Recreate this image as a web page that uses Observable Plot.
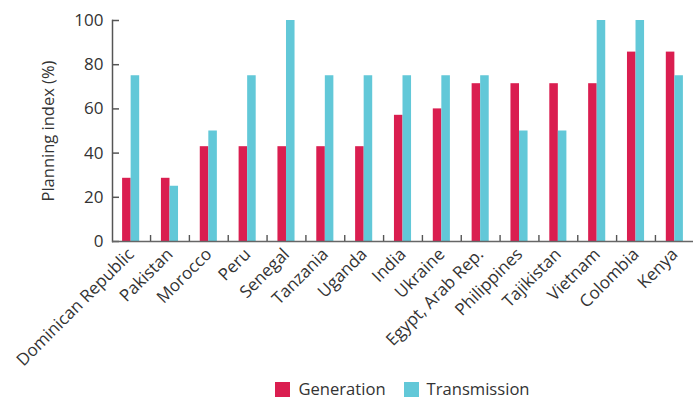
<!DOCTYPE html>
<html><head><meta charset="utf-8">
<script src="https://cdn.jsdelivr.net/npm/d3@7"></script>
<script src="https://cdn.jsdelivr.net/npm/@observablehq/plot@0.6"></script>
<style>
body{margin:0;background:#fff;font-family:"Open Sans",sans-serif;color:#333;}
#wrap{position:relative;width:693px;height:401px;overflow:hidden;}
#legend{position:absolute;left:112px;right:0;top:381px;height:16px;display:flex;justify-content:center;align-items:center;font-size:16.6px;line-height:16px;color:#333;}
#legend .item{display:flex;align-items:center;margin:0 9px;height:16px;}
#legend .sw{width:15px;height:15px;margin-right:8px;}
#legend .lbl{display:block;height:16px;line-height:16px;}
</style></head><body><div id="wrap"><div id="chart"></div><div id="legend"></div></div>
<script>
const countries = ["Dominican Republic","Pakistan","Morocco","Peru","Senegal","Tanzania","Uganda","India","Ukraine","Egypt, Arab Rep.","Philippines","Tajikistan","Vietnam","Colombia","Kenya"];
const generation = [28.6,28.6,42.9,42.9,42.9,42.9,42.9,57.1,60,71.4,71.4,71.4,71.4,85.7,85.7];
const transmission = [75,25,50,75,100,75,75,75,75,75,50,50,100,100,75];
const yTicks = [0,20,40,60,80,100];
const seriesNames = ["Generation","Transmission"];
const colors = ["#DA1E50","#62C8D8"];
const yTitle = "Planning index (%)";

const rows = countries.map((c,i)=>({country:c, generation:generation[i], transmission:transmission[i]}));
const W=693,H=375,ML=112,MR=0,MT=20,Y0=241;
const pInner=0.56,pOuter=0.26;
const step=(W-ML-MR)/(countries.length - pInner + 2*pOuter);
const bw=step*(1-pInner);
const axisColor="#555";

const chart = Plot.plot({
  width:W,height:H,marginLeft:ML,marginRight:MR,marginTop:MT,marginBottom:H-Y0,
  style:{fontFamily:"'Open Sans',sans-serif",color:"#333",background:"#fff"},
  x:{domain:countries,paddingInner:pInner,paddingOuter:pOuter,round:false,label:null},
  y:{domain:[0,100],label:null},
  marks:[
    Plot.barY(rows,{x:"country",y:"generation",fill:colors[0],insetRight:bw/2}),
    Plot.barY(rows,{x:"country",y:"transmission",fill:colors[1],insetLeft:bw/2}),
    Plot.tickY(yTicks,{y:d=>d,insetRight:W-ML-MR-7,stroke:axisColor,strokeWidth:1.5}),
    Plot.frame({anchor:"left",stroke:axisColor,strokeWidth:1.5}),
    Plot.ruleY([0],{stroke:"#666",strokeWidth:1.5}),
    Plot.axisX({ticks:countries.slice(1),tickSize:6,tickFormat:()=>"",anchor:"bottom",dy:-6,dx:-step/2,stroke:axisColor,strokeWidth:1.4}),
    Plot.axisY({ticks:yTicks,tickSize:0,tickPadding:9,fontSize:17,label:null}),
    Plot.axisX({tickSize:0,tickRotate:-45,tickPadding:10,fontSize:17,label:null}),
    Plot.text([yTitle],{text:d=>d,frameAnchor:"left",textAnchor:"middle",dx:-64,rotate:-90,fontSize:16.5,fill:"#333"})
  ]
});
document.getElementById("chart").appendChild(chart);
const lg=document.getElementById("legend");
seriesNames.forEach((s,i)=>{
  const it=document.createElement("div");it.className="item";
  const sw=document.createElement("div");sw.className="sw";sw.style.background=colors[i];
  const t=document.createElement("span");t.className="lbl";t.textContent=s;
  it.appendChild(sw);it.appendChild(t);lg.appendChild(it);
});
</script></body></html>
